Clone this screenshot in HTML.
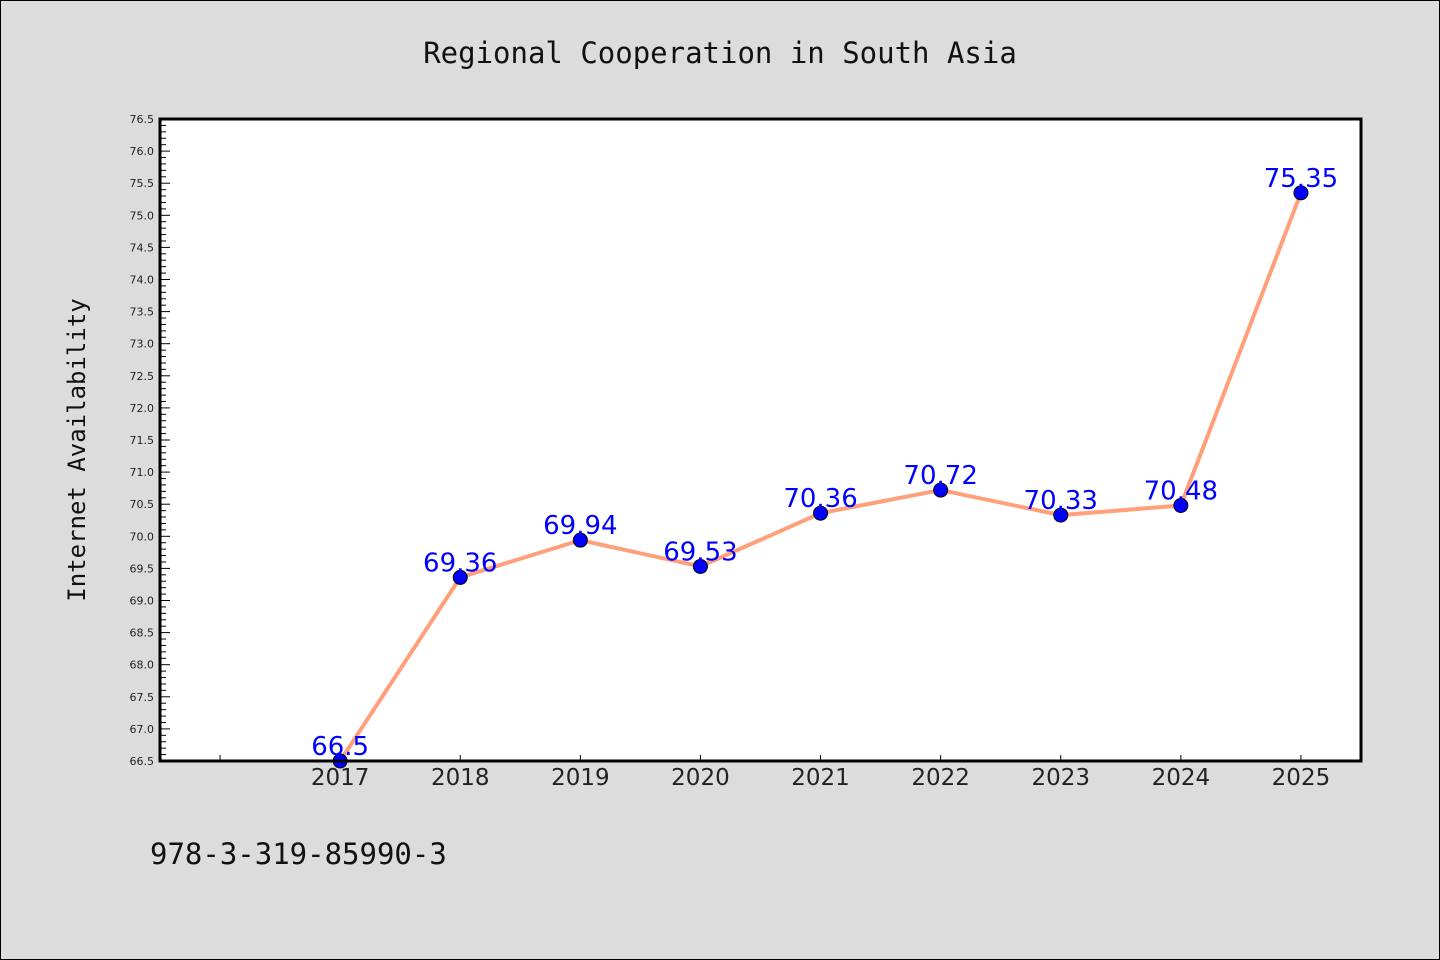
<!DOCTYPE html>
<html><head><meta charset="utf-8"><style>
body{margin:0;background:#dcdcdc;}
svg{display:block}
</style></head><body>
<svg width="1440" height="960" xmlns="http://www.w3.org/2000/svg">
<rect x="0.5" y="0.5" width="1439" height="959" fill="#dcdcdc" stroke="#000"/>
<text x="720" y="63" text-anchor="middle" font-family="DejaVu Sans Mono, Liberation Mono, monospace" font-size="29" fill="#111">Regional Cooperation in South Asia</text>
<rect x="160" y="119" width="1201" height="642" fill="#fff"/>
<g id="axes"></g>
<g id="marks"></g>
<rect x="160" y="119" width="1201" height="642" fill="none" stroke="#000" stroke-width="3"/>
<text transform="translate(85,450) rotate(-90)" text-anchor="middle" font-family="DejaVu Sans Mono, Liberation Mono, monospace" font-size="24" fill="#111">Internet Availability</text>
<text x="150" y="864" font-family="DejaVu Sans Mono, Liberation Mono, monospace" font-size="29" fill="#111">978-3-319-85990-3</text>
</svg>
<script>
const categories = ["", "2017", "2018", "2019", "2020", "2021", "2022", "2023", "2024", "2025"];
const values = [null, 66.5, 69.36, 69.94, 69.53, 70.36, 70.72, 70.33, 70.48, 75.35];
const labels = ["", "66.5", "69.36", "69.94", "69.53", "70.36", "70.72", "70.33", "70.48", "75.35"];
const yMin = 66.5, yMax = 76.5;
const NS = "http://www.w3.org/2000/svg";
const L = 160, R = 1361, T = 119, B = 761;
const x = i => L + (R - L) / categories.length * (i + 0.5);
const y = v => B - (v - yMin) / (yMax - yMin) * (B - T);
function mk(tag, attrs, parent) { const e = document.createElementNS(NS, tag); for (const k in attrs) e.setAttribute(k, attrs[k]); parent.appendChild(e); return e; }
const axes = document.getElementById('axes'), marks = document.getElementById('marks');
for (let k = 0; k <= 100; k++) {
  const v = yMin + k * 0.1, yy = y(v), major = k % 5 === 0;
  const t = mk('line', {x1: L, x2: L + (major ? 10 : 6), y1: yy, y2: yy, stroke: '#000', 'stroke-width': 1}, axes);
  
  
  if (major) {
    const tx = mk('text', {x: L - 6, y: yy + 4, 'text-anchor': 'end', 'font-family': 'DejaVu Sans, Liberation Sans, sans-serif', 'font-size': 11, fill: '#222'}, axes);
    tx.textContent = v.toFixed(1);
    
    
  }
}
categories.forEach((c, i) => {
  const t = mk('line', {x1: x(i), x2: x(i), y1: B, y2: B - 6, stroke: '#000', 'stroke-width': 1}, axes);
  
  
  const tx = mk('text', {x: x(i), y: B + 24, 'text-anchor': 'middle', 'font-family': 'DejaVu Sans, Liberation Sans, sans-serif', 'font-size': 23, fill: '#222'}, axes);
  tx.textContent = c;
  
  
});
const pts = values.map((v, i) => v == null ? null : [x(i), y(v)]).filter(p => p);
const line = mk('polyline', {points: pts.map(p => p.join(',')).join(' '), fill: 'none', stroke: '#ffa07a', 'stroke-width': 4, 'stroke-linejoin': 'round'}, marks);


values.forEach((v, i) => {
  if (v == null) return;
  const c = mk('circle', {cx: x(i), cy: y(v), r: 7, fill: '#0000ff', stroke: '#000', 'stroke-width': 1}, marks);
  
  
  const tx = mk('text', {x: x(i), y: y(v) - 6, 'text-anchor': 'middle', 'font-family': 'DejaVu Sans, Liberation Sans, sans-serif', 'font-size': 26, fill: '#0000ff'}, marks);
  tx.textContent = labels[i];
  
  
});
</script>
</body></html>
